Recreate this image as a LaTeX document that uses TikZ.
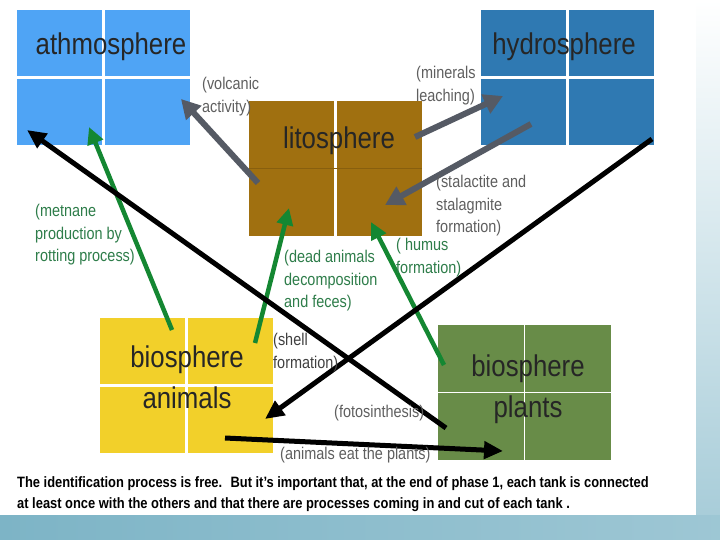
\documentclass[tikz,border=0pt]{standalone}
\usepackage{fontspec}
\setmainfont{Liberation Sans}
\newfontfamily\tankfont[FakeStretch=0.86]{Liberation Sans}
\newfontfamily\notefont[FakeStretch=0.85]{Liberation Sans}
\newfontfamily\footfont[FakeStretch=0.86]{Liberation Sans}
\usepackage{tikz}
\usetikzlibrary{arrows.meta}
\usetikzlibrary{positioning}

\definecolor{athmoblue}{RGB}{79,164,245}
\definecolor{hydroblue}{RGB}{47,121,178}
\definecolor{litobrown}{RGB}{160,112,16}
\definecolor{animalyellow}{RGB}{242,208,42}
\definecolor{plantgreen}{RGB}{104,140,72}
\definecolor{flowgray}{RGB}{85,90,100}
\definecolor{flowgreen}{RGB}{20,135,50}
\definecolor{notegray}{RGB}{95,95,95}
\definecolor{notegreen}{RGB}{46,125,74}
\definecolor{slideteal}{RGB}{125,180,198}

\begin{document}
\begin{tikzpicture}[x=1pt,y=-1pt]
% 1 = 1px of the slide, y goes down
    \def\TANKW{173pt} %width of tanks
    \def\TANKH{135pt} %height of tanks
    \def\PAGEW{696}
    \def\PAGEH{515}

    \tikzset{
      tank/.style={fill=#1, minimum width=\TANKW, minimum height=\TANKH,
        inner sep=0pt, anchor=north west},
      gap/.style={white, line width=2.5pt},
      tanktext/.style={font=\tankfont\fontsize{30}{41}\selectfont,
        text=black!85, align=center, inner sep=0pt, anchor=north},
      note/.style={font=\notefont\fontsize{17}{22.5}\selectfont,
        text=notegray, align=left, inner sep=0pt, anchor=north west},
      greennote/.style={note, text=notegreen},
      grayflow/.style={-{Triangle[width=20pt,length=19pt]},
        line width=6pt, color=flowgray},
      greenflow/.style={-{Triangle[width=16pt,length=17pt]},
        line width=4.5pt, color=flowgreen},
      blackflow/.style={-{Triangle[width=17pt,length=19pt]},
        line width=5pt, color=black},
    }

    \useasboundingbox (0,0) rectangle (720,540);

    % SLIDE BACKGROUND
    \fill[top color=white, bottom color=slideteal!70] (\PAGEW,0) rectangle (720,540);
    \fill[left color=slideteal, right color=slideteal!75!white] (0,\PAGEH) rectangle (720,540);
    \fill[white] (0,0) rectangle (\PAGEW,\PAGEH);

    % TANKS
    \node[tank=athmoblue] (athmo) at (17,10) {};
    \node[tank=hydroblue] (hydro) at (481,10) {};
    \node[tank=litobrown] (lito) at (249,101) {};
    \node[tank=animalyellow] (animals) at (100,318) {};
    \node[tank=plantgreen] (plants) at (438,325) {};

    \draw[gap] (athmo.north) -- (athmo.south);
    \draw[gap] (athmo.west) -- (athmo.east);
    \draw[gap] (hydro.north) -- (hydro.south);
    \draw[gap] (hydro.west) -- (hydro.east);
    \draw[gap] (lito.north) -- (lito.south);
    \draw[litobrown!85!black, line width=0.6pt] (lito.west) -- (lito.east);
    \draw[gap] (animals.north) -- (animals.south);
    \draw[gap] (animals.west) -- (animals.east);
    \draw[gap, line width=1.5pt] (plants.north) -- (plants.south);
    \draw[gap, line width=1.5pt] (plants.west) -- (plants.east);

    \node[tanktext] (athmo-t) at (111,33) {athmosphere};
    \node[tanktext] (hydro-t) at (564,33) {hydrosphere};
    \node[tanktext] (lito-t) at (339,127) {litosphere};
    \node[tanktext] (animals-t) at (187,346) {biosphere\\animals};
    \node[tanktext] (plants-t) at (528,355) {biosphere\\plants};

    % END POINTS OF THE FLOWS
    \coordinate (volc-a) at (258,183);
    \coordinate (volc-b) at (181,99);
    \coordinate (leach-a) at (415,137);
    \coordinate (leach-b) at (503,96);
    \coordinate (stal-a) at (531,124);
    \coordinate (stal-b) at (385,205);
    \coordinate (meth-a) at (172,330);
    \coordinate (meth-b) at (89,127);
    \coordinate (dead-a) at (255,343);
    \coordinate (dead-b) at (289,208);
    \coordinate (humus-a) at (444,365);
    \coordinate (humus-b) at (371,222);
    \coordinate (foto-a) at (446,428);
    \coordinate (foto-b) at (27,130);
    \coordinate (shell-a) at (652,139);
    \coordinate (shell-b) at (265,419);
    \coordinate (eat-a) at (225,438);
    \coordinate (eat-b) at (503,451);

    % GRAY FLOWS (LITOSPHERE)
    \draw[grayflow] (volc-a) -- (volc-b);
    \draw[grayflow] (leach-a) -- (leach-b);
    \draw[grayflow] (stal-a) -- (stal-b);

    % GREEN FLOWS (ANIMALS)
    \draw[greenflow] (meth-a) -- (meth-b);
    \draw[greenflow] (dead-a) -- (dead-b);
    \draw[greenflow] (humus-a) -- (humus-b);

    % BLACK FLOWS
    \draw[blackflow] (foto-a) -- (foto-b);
    \draw[blackflow] (shell-a) -- (shell-b);
    \draw[blackflow] (eat-a) -- (eat-b);

    % PROCESS LABELS
    \node[note] (volc-l) at (202,77) {(volcanic\\activity)};
    \node[note] (leach-l) at (416,66) {(minerals\\leaching)};
    \node[note] (stal-l) at (436,175) {(stalactite and\\stalagmite\\formation)};
    \node[greennote] (meth-l) at (35,204) {(metnane\\production by\\rotting process)};
    \node[greennote] (dead-l) at (284,250) {(dead animals\\decomposition\\and feces)};
    \node[greennote] (humus-l) at (396,238) {( humus\\formation)};
    \node[note, text=black!75] (shell-l) at (273,333) {(shell\\formation)};
    \node[note] (foto-l) at (334,405) {(fotosinthesis)};
    \node[note] (eat-l) at (280,447) {(animals eat the plants)};

    % FOOTNOTE
    \node[font=\footfont\bfseries\fontsize{15}{21}\selectfont, align=left,
          inner sep=0pt, anchor=north west] (foot) at (17,476)
      {The identification process is free.~ But it’s important that, at the end of phase 1, each tank is connected\\
       at least once with the others and that there are processes coming in and cut of each tank .};

\end{tikzpicture}
\end{document}
